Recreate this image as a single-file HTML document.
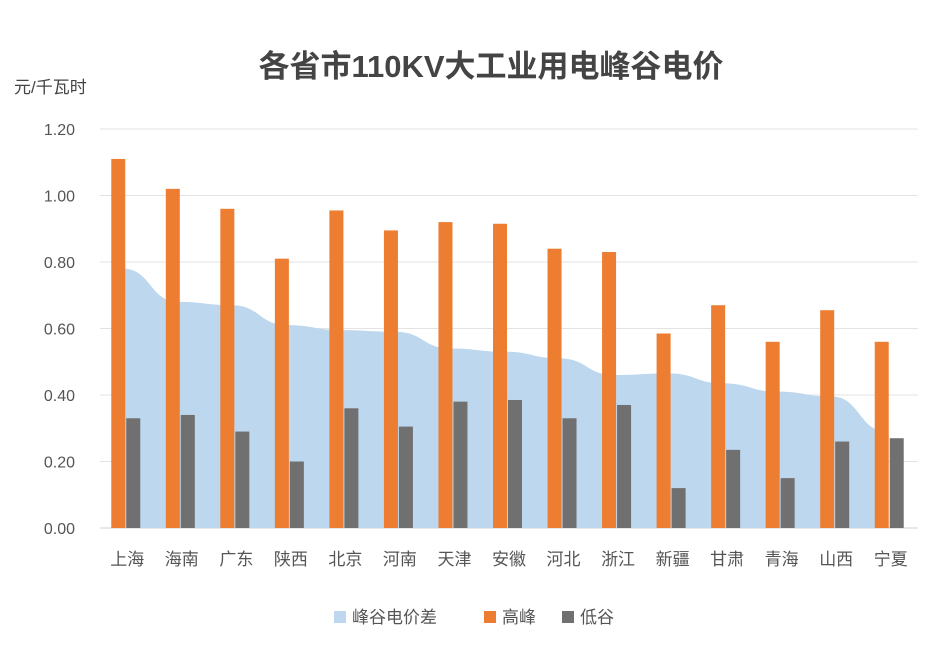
<!DOCTYPE html>
<html><head><meta charset="utf-8"><style>
body{margin:0;background:#fff;}
svg text{font-family:"Liberation Sans","Noto Sans CJK SC",sans-serif;}
</style></head><body>
<svg width="949" height="664" xmlns="http://www.w3.org/2000/svg">
<text x="491" y="77" text-anchor="middle" font-size="31" font-weight="bold" fill="#444">各省市110KV大工业用电峰谷电价</text>
<text x="14" y="93" font-size="17" fill="#444">元/千瓦时</text>
<g id="grid"></g><g id="area"></g><g id="bars"></g><g id="labels"></g>
<g>
<rect x="334" y="611" width="12" height="12" fill="#bdd7ee"/>
<text x="352" y="623" font-size="17" fill="#555">峰谷电价差</text>
<rect x="484" y="611" width="12" height="12" fill="#ed7d31"/>
<text x="502" y="623" font-size="17" fill="#555">高峰</text>
<rect x="562" y="611" width="12" height="12" fill="#707070"/>
<text x="580" y="623" font-size="17" fill="#555">低谷</text>
</g>
</svg>
<script>
const categories=["上海","海南","广东","陕西","北京","河南","天津","安徽","河北","浙江","新疆","甘肃","青海","山西","宁夏"];
const peak=[1.11,1.02,0.96,0.81,0.955,0.895,0.92,0.915,0.84,0.83,0.585,0.67,0.56,0.655,0.56];
const valley=[0.33,0.34,0.29,0.20,0.36,0.305,0.38,0.385,0.33,0.37,0.12,0.235,0.15,0.26,0.27];
const diff=[0.78,0.68,0.67,0.61,0.595,0.59,0.54,0.53,0.51,0.46,0.465,0.435,0.41,0.395,0.29];
const ticks=[0,0.2,0.4,0.6,0.8,1.0,1.2];
const NS="http://www.w3.org/2000/svg";
const L=100,R=918,Y0=528,Y1=129;
const y=v=>Y0-(v/1.2)*(Y0-Y1);
const bw=(R-L)/categories.length;
const cx=i=>L+bw*(i+0.5);
function mk(t,a,p){const e=document.createElementNS(NS,t);for(const k in a)e.setAttribute(k,a[k]);p.appendChild(e);return e;}
const grid=document.getElementById('grid');
ticks.forEach((t,i)=>{
 const l=mk('line',{x1:L,x2:R,y1:y(t),y2:y(t),stroke:i==0?'#d0d0d0':'#e3e3e3','stroke-width':1},grid);
 
 
 const tx=mk('text',{x:75,y:y(t)+6,'text-anchor':'end','font-size':16,fill:'#555'},grid);
 tx.textContent=t.toFixed(2);
 
 
});
const pts=diff.map((v,i)=>[cx(i)-4,y(v)]);
let d=`M${pts[0][0]},${Y0} L${pts[0][0]},${pts[0][1]}`;
for(let i=1;i<pts.length;i++){const [x0,y0]=pts[i-1],[x1,y1]=pts[i];const m=(x0+x1)/2;d+=` C${m},${y0} ${m},${y1} ${x1},${y1}`;}
d+=` L${pts[pts.length-1][0]},${Y0} Z`;
const ar=mk('path',{d:d,fill:'#bdd7ee'},document.getElementById('area'));


const bars=document.getElementById('bars'),labels=document.getElementById('labels');
categories.forEach((c,i)=>{
 const b1=mk('rect',{x:cx(i)-16,y:y(peak[i]),width:14,height:Y0-y(peak[i]),fill:'#ed7d31'},bars);
 
 
 const b2=mk('rect',{x:cx(i)-1,y:y(valley[i]),width:14,height:Y0-y(valley[i]),fill:'#707070'},bars);
 
 
 const t=mk('text',{x:cx(i),y:565,'text-anchor':'middle','font-size':17,fill:'#555'},labels);
 t.textContent=c;
 
 
});
</script>
</body></html>
